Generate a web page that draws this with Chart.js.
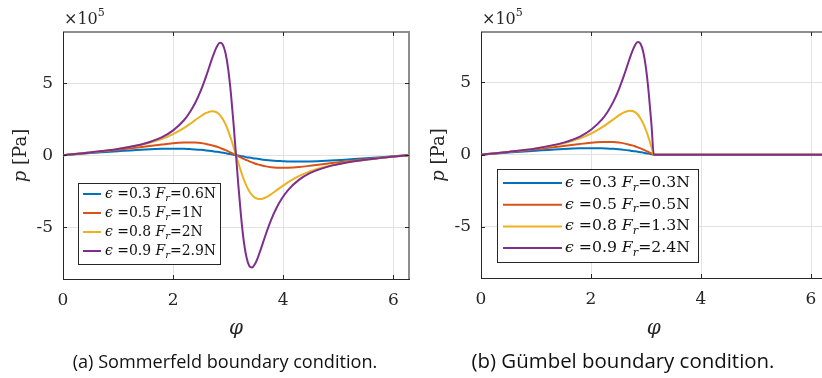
<!DOCTYPE html>
<html lang="en">
<head>
<meta charset="UTF-8">
<title>Journal bearing pressure distribution</title>
<style>
  html, body { margin: 0; padding: 0; background: #fff; overflow: hidden; width: 822px; height: 378px; }
  .panel { position: absolute; top: 0; height: 378px; }
  #left { left: 0; width: 415px; }
  #right { left: 410px; width: 420px; }
</style>
</head>
<body>
<div class="panel" id="left"><canvas id="sommerfeld"></canvas></div>
<div class="panel" id="right"><canvas id="guembel"></canvas></div>

<script src="https://cdn.jsdelivr.net/npm/chart.js@4/dist/chart.umd.min.js"></script>
<script>
// angle phi (rad), pressure in units of 1e5 Pa
const phi = [0, 0.5, 1.0, 1.5, 1.8, 2.0, 2.2, 2.3, 2.4, 2.5, 2.6, 2.7, 2.75, 2.8, 2.85, 2.9, 2.95, 3.0, 3.05, 3.1, 3.1416,
  3.1832, 3.2332, 3.2832, 3.3332, 3.3832, 3.4332, 3.4832, 3.5332, 3.5832, 3.6832, 3.7832, 3.8832, 3.9832, 4.0832,
  4.2832, 4.4832, 4.7832, 5.2832, 5.7832, 6.2832];

// (a) Sommerfeld
const somEps03 = [0, .14, .27, .39, .44, .45, .44, .42, .40, .37, .33, .28, .25, .23, .20, .17, .14, .10, .07, .03, 0,
  -.03, -.07, -.10, -.14, -.17, -.20, -.23, -.25, -.28, -.33, -.37, -.40, -.42, -.44, -.45, -.44, -.39, -.27, -.14, 0];
const somEps05 = [0, .18, .37, .60, .74, .82, .87, .88, .87, .84, .78, .69, .64, .58, .50, .43, .35, .26, .17, .08, 0,
  -.08, -.17, -.26, -.35, -.43, -.50, -.58, -.64, -.69, -.78, -.84, -.87, -.88, -.87, -.82, -.74, -.60, -.37, -.18, 0];
const somEps08 = [0, .19, .43, .79, 1.13, 1.46, 1.89, 2.15, 2.43, 2.70, 2.93, 3.05, 3.03, 2.95, 2.78, 2.51, 2.15, 1.69, 1.14, .53, 0,
  -.53, -1.14, -1.69, -2.15, -2.51, -2.78, -2.95, -3.03, -3.05, -2.93, -2.70, -2.43, -2.15, -1.89, -1.46, -1.13, -.79, -.43, -.19, 0];
const somEps09 = [0, .19, .43, .83, 1.25, 1.72, 2.44, 2.96, 3.62, 4.46, 5.49, 6.63, 7.16, 7.58, 7.80, 7.69, 7.11, 5.98, 4.25, 2.05, 0,
  -2.05, -4.25, -5.98, -7.11, -7.69, -7.80, -7.58, -7.16, -6.63, -5.49, -4.46, -3.62, -2.96, -2.44, -1.72, -1.25, -.83, -.43, -.19, 0];

// (b) Guembel
const phiGum = [0, 0.5, 1.0, 1.5, 1.8, 2.0, 2.2, 2.3, 2.4, 2.5, 2.6, 2.7, 2.75, 2.8, 2.85, 2.9, 2.95, 3.0, 3.05, 3.1, 3.1416,
  4.0, 5.0, 6.0, 6.2832];
const gumEps03 = [0, .14, .27, .39, .44, .45, .44, .42, .40, .37, .33, .28, .25, .23, .20, .17, .14, .10, .07, .03, 0, 0, 0, 0, 0];
const gumEps05 = [0, .18, .37, .60, .74, .82, .87, .88, .87, .84, .78, .69, .64, .58, .50, .43, .35, .26, .17, .08, 0, 0, 0, 0, 0];
const gumEps08 = [0, .19, .43, .79, 1.13, 1.46, 1.89, 2.15, 2.43, 2.70, 2.93, 3.05, 3.03, 2.95, 2.78, 2.51, 2.15, 1.69, 1.14, .53, 0, 0, 0, 0, 0];
const gumEps09 = [0, .19, .43, .83, 1.25, 1.72, 2.44, 2.96, 3.62, 4.46, 5.49, 6.63, 7.16, 7.58, 7.80, 7.69, 7.11, 5.98, 4.25, 2.05, 0, 0, 0, 0, 0];

const epsLabels = ['0.3', '0.5', '0.8', '0.9'];
const frSom = ['0.6', '1', '2', '2.9'];
const frGum = ['0.3', '0.5', '1.3', '2.4'];
const xTicks = [0, 2, 4, 6];
const yTicks = [-5, 0, 5];

const colors = ['#0072BD', '#D95319', '#EDB120', '#7E2F8E'];
const SERIF = "'DejaVu Serif', serif";
const SANS = "'Open Sans', 'DejaVu Sans', sans-serif";

function xy(xs, ys) { return xs.map((v, i) => ({ x: v, y: ys[i] })); }

function drawParts(ctx, parts, x, y) {
  let cx = x;
  parts.forEach(([font, s, dy]) => {
    ctx.font = font;
    ctx.fillText(s, cx, y + dy);
    cx += ctx.measureText(s).width;
  });
  return cx - x;
}
function partsWidth(ctx, parts) {
  return parts.reduce((w, [font, s]) => { ctx.font = font; return w + ctx.measureText(s).width; }, 0);
}
function legendParts(s, eps, fr) {
  return [
    ['italic ' + s + 'px ' + SERIF, '\u03f5', 0],
    [s + 'px ' + SERIF, ' =' + eps + ' ', 0],
    ['italic ' + s + 'px ' + SERIF, 'F', 0],
    ['italic ' + (s * 0.72).toFixed(1) + 'px ' + SERIF, 'r', s * 0.3],
    [s + 'px ' + SERIF, '=' + fr + 'N', 0]
  ];
}

const decor = {
  id: 'decor',
  afterDraw(chart, args, o) {
    const { ctx, chartArea: a, scales: { x, y } } = chart;
    ctx.save();
    // box: top and right edges
    ctx.strokeStyle = '#8e8e8e';
    ctx.lineWidth = 2;
    ctx.beginPath();
    ctx.moveTo(a.left, a.top);
    ctx.lineTo(a.right, a.top);
    ctx.lineTo(a.right, a.bottom);
    ctx.stroke();
    // inward tick marks
    ctx.strokeStyle = '#262626';
    ctx.lineWidth = 1;
    ctx.beginPath();
    x.ticks.forEach(t => {
      const px = Math.round(x.getPixelForValue(t.value)) + 0.5;
      ctx.moveTo(px, a.bottom); ctx.lineTo(px, a.bottom - 4);
      ctx.moveTo(px, a.top); ctx.lineTo(px, a.top + 4);
    });
    y.ticks.forEach(t => {
      const py = Math.round(y.getPixelForValue(t.value)) + 0.5;
      ctx.moveTo(a.left, py); ctx.lineTo(a.left + 4, py);
      ctx.moveTo(a.right, py); ctx.lineTo(a.right - 4, py);
    });
    ctx.stroke();

    ctx.fillStyle = '#262626';
    ctx.textBaseline = 'alphabetic';
    ctx.textAlign = 'left';
    // exponent
    drawParts(ctx, [['16px ' + SERIF, '\u00d710', 0], ['11px ' + SERIF, '5', -8]], a.left + 1, 24);

    // y title
    const yt = [['italic 18px ' + SERIF, 'p', 0], ['18px ' + SERIF, ' [Pa]', 0]];
    const ytw = partsWidth(ctx, yt);
    ctx.save();
    ctx.translate(a.left - 42, (a.top + a.bottom) / 2);
    ctx.rotate(-Math.PI / 2);
    ctx.textBaseline = 'middle';
    drawParts(ctx, yt, -ytw / 2, 0);
    ctx.restore();

    // x title
    ctx.textAlign = 'center';
    ctx.textBaseline = 'middle';
    ctx.font = 'italic 20px ' + SERIF;
    ctx.fillText('\u03c6', (a.left + a.right) / 2, 329);

    // caption
    ctx.fillStyle = '#111';
    ctx.textBaseline = 'alphabetic';
    ctx.font = '16px ' + SANS;
    const cw = ctx.measureText(o.caption).width;
    const cs = 16 * o.captionWidth / cw;
    ctx.font = cs.toFixed(2) + 'px ' + SANS;
    ctx.fillText(o.caption, o.captionX, 368);

    // legend
    const L = o.legend;
    ctx.fillStyle = '#fff';
    ctx.fillRect(L.x, L.y, L.w, L.h);
    ctx.strokeStyle = '#262626';
    ctx.lineWidth = 1;
    ctx.strokeRect(L.x + 0.5, L.y + 0.5, L.w, L.h);
    ctx.textAlign = 'left';
    ctx.textBaseline = 'middle';
    const widest = Math.max(...epsLabels.map((e, i) => partsWidth(ctx, legendParts(12, e, L.fr[i]))));
    const fs = 12 * L.textWidth / widest;
    chart.data.datasets.forEach((ds, i) => {
      const ry = L.row0 + i * L.step;
      ctx.strokeStyle = ds.borderColor;
      ctx.lineWidth = 2;
      ctx.beginPath();
      ctx.moveTo(L.line0, ry); ctx.lineTo(L.line1, ry);
      ctx.stroke();
      ctx.fillStyle = '#111';
      drawParts(ctx, legendParts(fs.toFixed(2), epsLabels[i], L.fr[i]), L.text0, ry);
    });
    ctx.restore();
  }
};

function makeChart(id, xs, series, frs, geo) {
  const datasets = series.map((ys, i) => ({
    label: '\u03f5 =' + epsLabels[i] + ' Fr=' + frs[i] + 'N',
    data: xy(xs, ys),
    borderColor: colors[i],
    backgroundColor: colors[i],
    borderWidth: 2,
    pointRadius: 0,
    cubicInterpolationMode: 'monotone',
    fill: false,
    order: series.length - i   // later series drawn on top, like MATLAB
  }));
  return new Chart(document.getElementById(id), {
    type: 'line',
    data: { datasets },
    options: {
      responsive: true,
      maintainAspectRatio: false,
      animation: false,
      layout: { padding: { left: 0, right: geo.padRight, top: 32, bottom: 0 } },
      plugins: {
        legend: { display: false },
        tooltip: { enabled: false },
        decor: geo
      },
      scales: {
        x: {
          type: 'linear',
          min: 0,
          max: 2 * Math.PI,
          afterBuildTicks: s => { s.ticks = xTicks.map(v => ({ value: v })); },
          afterFit: s => { s.height = geo.xHeight; },
          grid: { color: '#e3e3e3', lineWidth: 1, drawTicks: false },
          border: { display: true, color: '#262626', width: 1 },
          ticks: { color: '#262626', font: { family: SERIF, size: 17 }, padding: 11, maxRotation: 0 }
        },
        y: {
          type: 'linear',
          min: geo.yMin,
          max: geo.yMax,
          afterBuildTicks: s => { s.ticks = yTicks.map(v => ({ value: v })); },
          afterFit: s => { s.width = geo.yWidth; },
          grid: { color: '#e3e3e3', lineWidth: 1, drawTicks: false },
          border: { display: true, color: '#262626', width: 1 },
          ticks: { color: '#262626', font: { family: SERIF, size: 17 }, padding: 10, callback: v => String(v) }
        }
      }
    },
    plugins: [decor]
  });
}

makeChart('sommerfeld', phi, [somEps03, somEps05, somEps08, somEps09], frSom, {
  padRight: 6, xHeight: 99, yWidth: 63, yMin: -8.6, yMax: 8.55,
  caption: '(a) Sommerfeld boundary condition.', captionX: 225, captionWidth: 305,
  legend: { x: 78, y: 183, w: 142, h: 81, row0: 194, step: 19, line0: 83, line1: 101, text0: 105, textWidth: 111, fr: frSom }
});

makeChart('guembel', phiGum, [gumEps03, gumEps05, gumEps08, gumEps09], frGum, {
  padRight: 3.4, xHeight: 100, yWidth: 71, yMin: -8.55, yMax: 8.5,
  caption: '(b) G\u00fcmbel boundary condition.', captionX: 213, captionWidth: 303,
  legend: { x: 87, y: 169, w: 201, h: 93, row0: 183, step: 21.7, line0: 93, line1: 152, text0: 155, textWidth: 125, fr: frGum }
});
</script>
</body>
</html>
